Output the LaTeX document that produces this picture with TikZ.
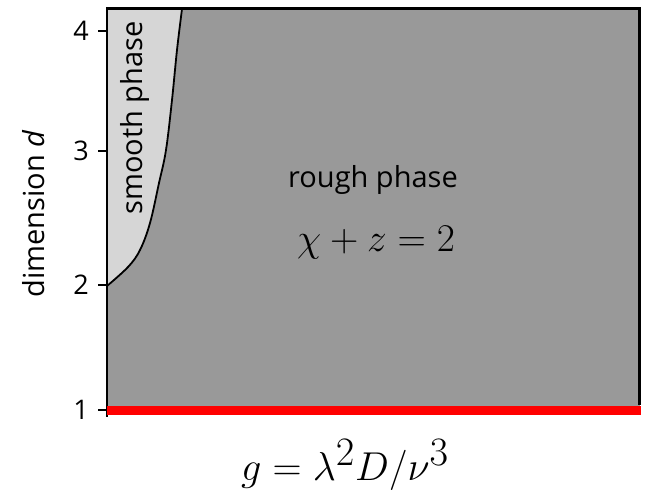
\documentclass[tikz,border=0pt]{standalone}
\usepackage{graphicx}
\usepackage{fontspec}
\setmainfont{Open Sans}
\begin{document}
\begin{tikzpicture}[x=1pt,y=-1pt,
  lab/.style={font=\fontsize{29}{34}\selectfont, inner sep=0pt},
  ticklab/.style={font=\fontsize{27}{32}\selectfont, inner sep=0pt, anchor=east},
  mathlab/.style={font=\fontsize{46}{54}\selectfont, inner sep=0pt}]
\useasboundingbox (0,0) rectangle (645,494);
\fill[fill={rgb,255:red,153;green,153;blue,153}] (107,9) rectangle (640,410);
\fill[fill={rgb,255:red,214;green,214;blue,214}] (107,9) -- (107,286) --
  plot[smooth, tension=0.6] coordinates {(107,286) (128,267) (140,250) (150,223) (159,183) (166,150) (172,100) (177,50) (182,9)} -- cycle;
\draw[line width=1.8pt] plot[smooth, tension=0.6] coordinates {(107,286) (128,267) (140,250) (150,223) (159,183) (166,150) (172,100) (177,50) (182,9)};
\draw[line width=3pt] (106,9) -- (639,9) -- (639,405);
\draw[line width=2.5pt] (107,8) -- (107,417);
\foreach \yy/\t in {31/4,151/3,285/2,410/1}{
  \draw[line width=2pt] (98,\yy) -- (107,\yy);
  \node[ticklab] (t\t) at (89,\yy) {\t};
}
\draw[red, line width=9pt] (107,410) -- (641,410);
\node[lab, rotate=90] (smooth) at (135,118) {smooth phase};
\node[lab, rotate=90] (dim) at (34,214) {dimension \textit{d}};
\node[lab] (rough) at (373,180) {rough phase};
\node[mathlab] (chi) at (376,243) {\scalebox{1.58}{$\chi+z=2$}};
\node[mathlab] (g) at (345,465) {\scalebox{1.62}{$g=\lambda^2D/\nu^3$}};
\end{tikzpicture}
\end{document}
